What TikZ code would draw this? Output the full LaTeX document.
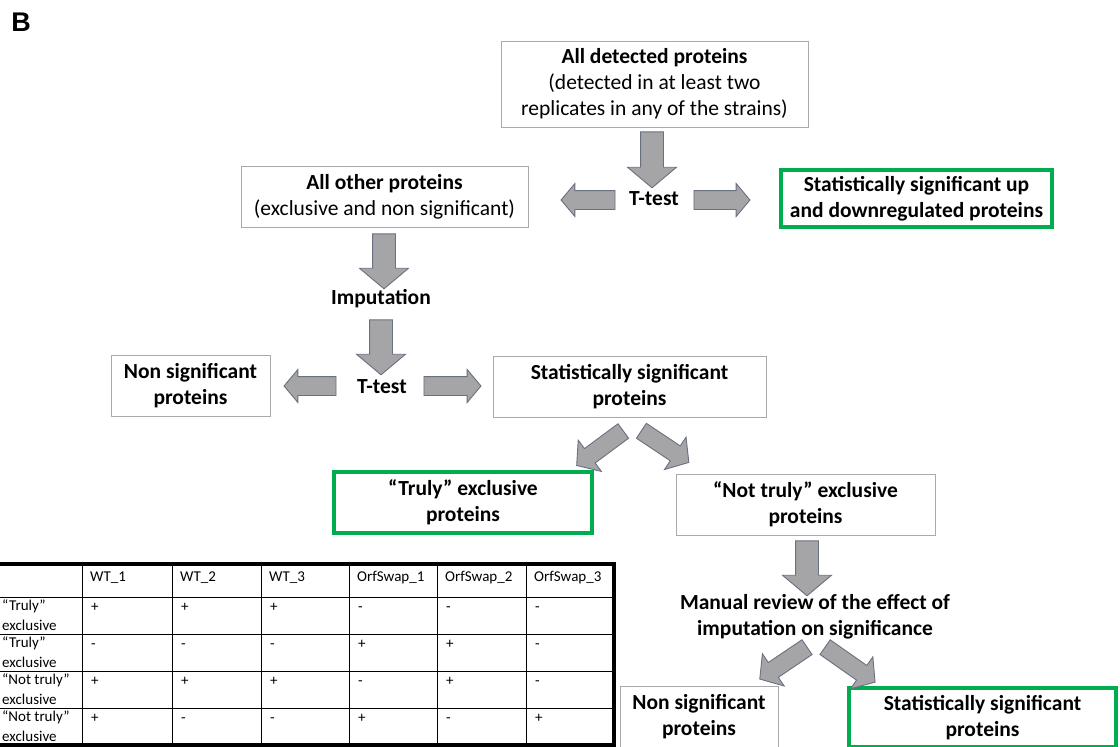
\documentclass[tikz,border=0pt]{standalone}
\usepackage{fontspec}
\setmainfont{Carlito}
\newfontfamily\arialfont{Liberation Sans}
\usetikzlibrary{shapes.arrows}
\definecolor{boxgray}{RGB}{170,170,170}
\definecolor{grn}{RGB}{0,172,80}
\definecolor{arrfill}{RGB}{165,165,168}
\definecolor{arrdraw}{RGB}{105,112,128}
\begin{document}
\begin{tikzpicture}[x=1pt,y=-1pt,
  txt/.style={align=center, font=\fontsize{21.5}{26}\selectfont, inner sep=0pt},
  box/.style={txt, draw=boxgray, line width=0.9pt},
  bbox/.style={box, font=\fontsize{21.5}{26}\selectfont\bfseries},
  gbox/.style={txt, draw=grn, line width=4pt, font=\fontsize{21.5}{26}\selectfont\bfseries},
  lbl/.style={txt, font=\fontsize{21.5}{26}\selectfont\bfseries},
  barrow/.style={single arrow, draw=arrdraw, fill=arrfill, line width=0.9pt,
    inner sep=0pt, inner ysep=11pt, single arrow head extend=13pt,
    single arrow tip angle=100, minimum width=48pt},
  harrow/.style={barrow, inner ysep=9pt, single arrow head extend=7pt, minimum width=32pt},
  darrow/.style={barrow, inner ysep=8.5pt, single arrow head extend=10.5pt, minimum width=38pt},
  tcell/.style={anchor=base west, inner sep=0pt, font=\fontsize{15}{20}\selectfont},
]
\useasboundingbox (0,0) rectangle (1120,747);
\fill[white] (0,0) rectangle (1120,747);

% panel letter
\node[anchor=center, inner sep=0pt, font=\arialfont\fontsize{27}{27}\selectfont\bfseries] (lettB) at (21,22) {B};

% boxes
\node[box, minimum width=307pt, minimum height=86pt] (all) at (654.5,84)
  {\textbf{All detected proteins}\\(detected in at least two\\replicates in any of the strains)};
\node[box, minimum width=287pt, minimum height=61pt] (other) at (384.5,196.5)
  {\textbf{All other proteins}\\(exclusive and non significant)};
\node[gbox, minimum width=271pt, minimum height=57pt] (updown) at (916.5,198.5)
  {Statistically significant up\\and downregulated proteins};
\node[lbl] (tt1) at (654,199) {T-test};
\node[lbl] (imp) at (381,299) {Imputation};
\node[lbl] (tt2) at (382,387) {T-test};
\node[bbox, minimum width=159pt, minimum height=61pt] (ns1) at (190.5,385.5)
  {Non significant\\proteins};
\node[bbox, minimum width=273pt, minimum height=61pt] (ss1) at (629.5,386.5)
  {Statistically significant\\proteins};
\node[gbox, minimum width=258pt, minimum height=61pt] (truly) at (463,502.5)
  {“Truly” exclusive\\proteins};
\node[bbox, minimum width=259pt, minimum height=61pt] (ntruly) at (805.5,504.5)
  {“Not truly” exclusive\\proteins};
\node[lbl] (manual) at (815,617)
  {Manual review of the effect of\\imputation on significance};
\node[bbox, minimum width=158pt, minimum height=62pt] (ns2) at (699,717)
  {Non significant\\proteins};
\node[gbox, minimum width=267pt, minimum height=59pt] (ss2) at (982.5,717.5)
  {Statistically significant\\proteins};

% block arrows
\node[barrow, minimum height=56pt, rotate=-90] (a1) at (652,155) {};
\node[harrow, minimum height=54pt, rotate=180] (a2) at (592,200) {};
\node[harrow, minimum height=56pt] (a3) at (718,200) {};
\node[barrow, minimum height=55pt, rotate=-90] (a4) at (384,256.5) {};
\node[barrow, minimum height=55pt, rotate=-90] (a5) at (381,342.5) {};
\node[harrow, minimum height=52pt, rotate=180] (a6) at (314,386) {};
\node[harrow, minimum height=57pt] (a7) at (448.5,386) {};
\node[darrow, minimum height=58pt, rotate=216.5] (a8) at (603,446) {};
\node[darrow, minimum height=57pt, rotate=-33.7] (a9) at (662,444.5) {};
\node[barrow, minimum height=55pt, rotate=-90] (a10) at (807,563.5) {};
\node[darrow, minimum height=57pt, rotate=214] (a11) at (786.5,661) {};
\node[darrow, minimum height=61pt, rotate=-35] (a12) at (847,662.5) {};

% table
\foreach \y in {597,634,671,708} \draw[line width=0.7pt] (0,\y) -- (615,\y);
\foreach \x in {82,172,261,349,437,526} \draw[line width=0.7pt] (\x,563) -- (\x,746);
\draw[line width=3.5pt] (-4,564) rectangle (614,745);
\foreach \x/\t in {82/WT\_1,172/WT\_2,261/WT\_3,349/OrfSwap\_1,437/OrfSwap\_2,526/OrfSwap\_3}
  \node[tcell] at (\x+8,581) {\t};
\foreach \y/\a [count=\k] in {597/“Truly”,634/“Truly”,671/“Not truly”,708/“Not truly”}{
  \node[tcell] (ra\k) at (2,\y+13) {\a};
  \node[tcell] (rb\k) at (2,\y+33) {exclusive};
}
\foreach \row/\y in {{+,+,+,-,-,-}/597,{-,-,-,+,+,-}/634,{+,+,+,-,+,-}/671,{+,-,-,+,-,+}/708}{
  \foreach \v [count=\i] in \row {
    \pgfmathsetmacro\cx{{82,172,261,349,437,526}[\i-1]}
    \node[tcell] at (\cx+9,\y+14) {\v};
  }
}
\end{tikzpicture}
\end{document}
